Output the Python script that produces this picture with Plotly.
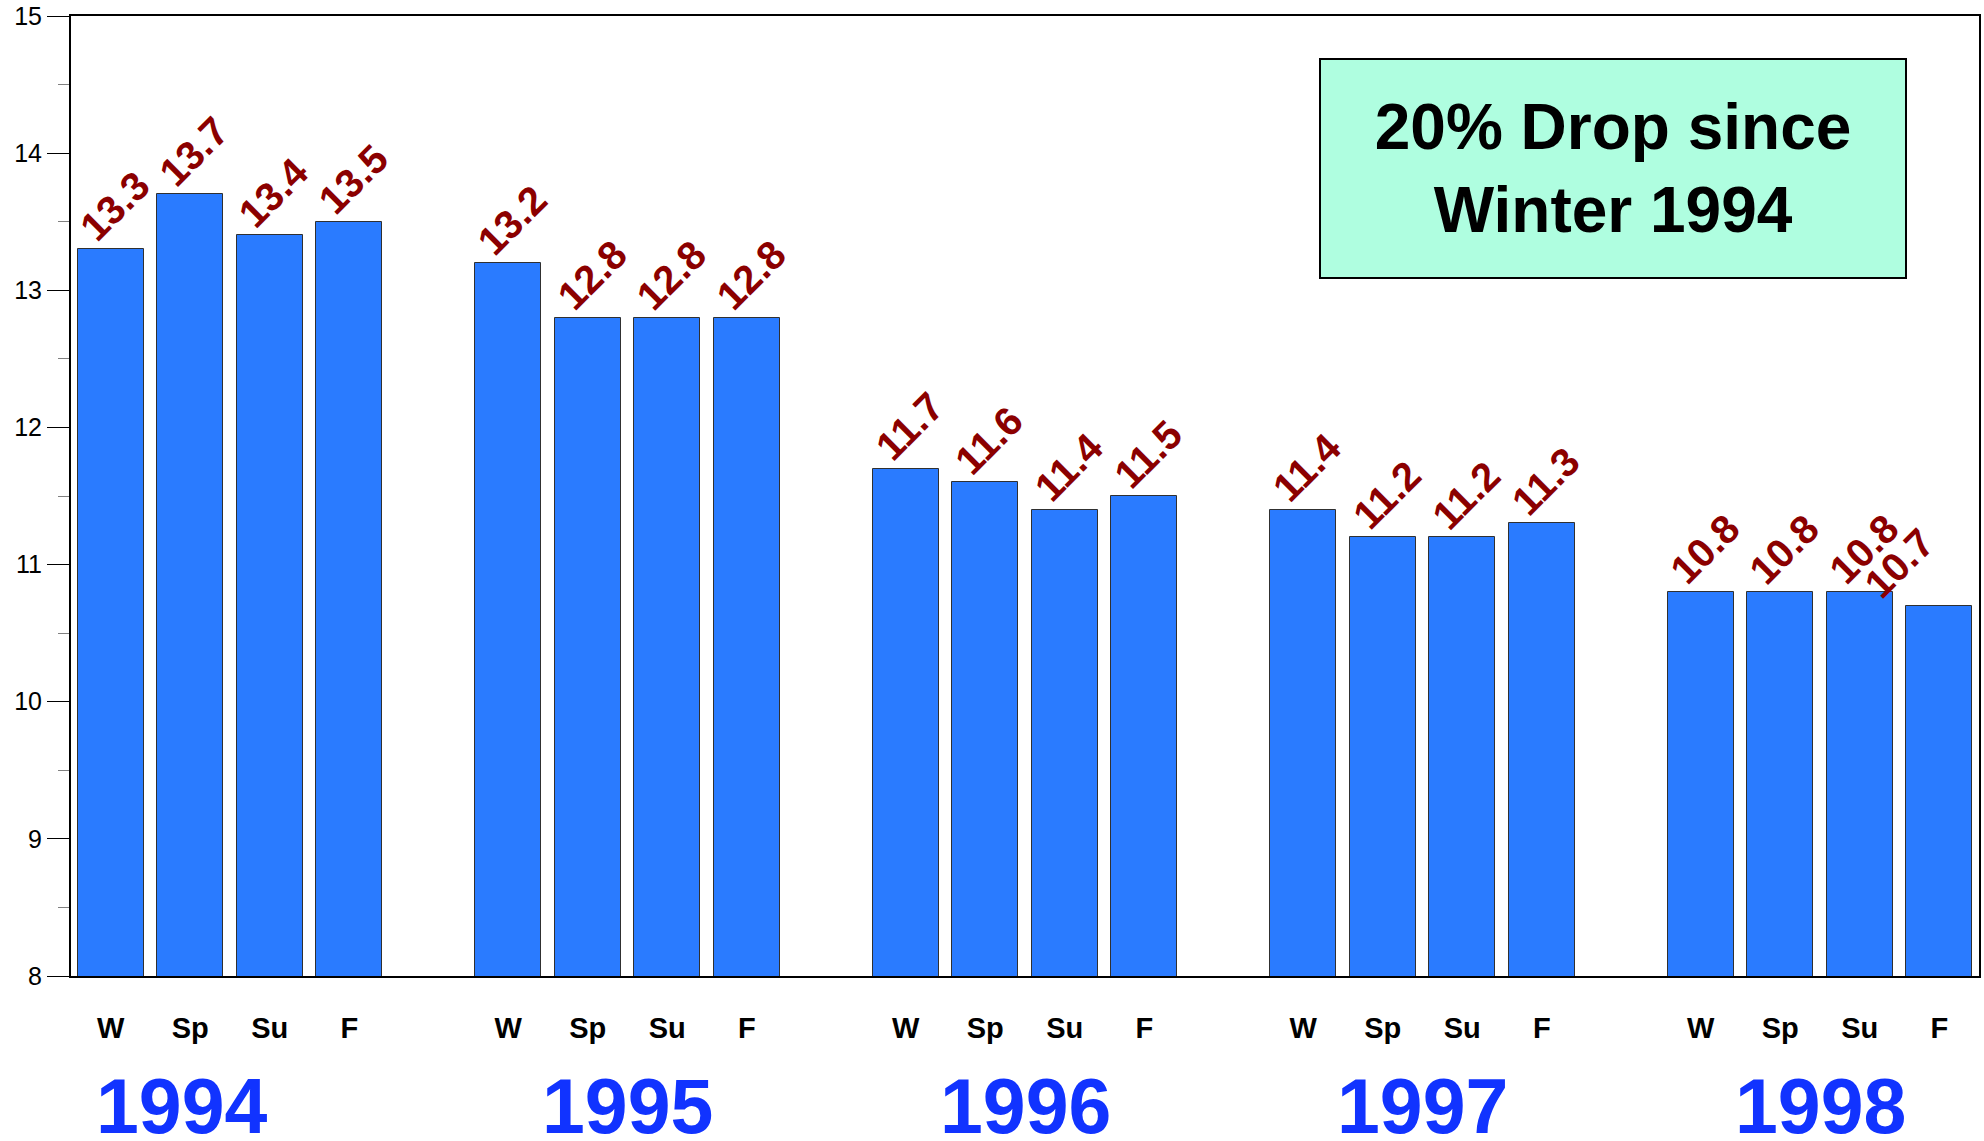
import plotly.graph_objects as go

years = ["1994", "1995", "1996", "1997", "1998"]
seasons = ["W", "Sp", "Su", "F"]
values_1994 = [13.3, 13.7, 13.4, 13.5]
values_1995 = [13.2, 12.8, 12.8, 12.8]
values_1996 = [11.7, 11.6, 11.4, 11.5]
values_1997 = [11.4, 11.2, 11.2, 11.3]
values_1998 = [10.8, 10.8, 10.8, 10.7]
y_ticks = [8, 9, 10, 11, 12, 13, 14, 15]

FONT = "Liberation Sans, Arial, sans-serif"
BAR_COLOR = "#2a7bff"
LABEL_COLOR = "#8b0000"
YEAR_COLOR = "#1133ff"
SLOTS = len(seasons) + 1  # four bars plus a blank slot per year

all_values = [values_1994, values_1995, values_1996, values_1997, values_1998]

xs, ys, tick_text = [], [], []
for g, vals in enumerate(all_values):
    for s, v in enumerate(vals):
        xs.append(g * SLOTS + s)
        ys.append(v)
        tick_text.append(seasons[s])

fig = go.Figure()
fig.add_trace(
    go.Bar(
        x=xs,
        y=ys,
        width=0.83,
        marker=dict(color=BAR_COLOR, line=dict(color="#303030", width=1)),
        hoverinfo="x+y",
    )
)

# rotated value labels above each bar (the last one is pushed left to stay inside)
for i, (x, v) in enumerate(zip(xs, ys)):
    fig.add_annotation(
        x=x,
        y=v,
        text=f"<b>{v:.1f}</b>",
        textangle=-45,
        showarrow=False,
        xanchor="center",
        yanchor="bottom",
        xshift=4 if i < len(xs) - 1 else -40,
        yshift=-3,
        font=dict(family=FONT, size=40, color=LABEL_COLOR),
    )

# year labels under each group
year_shift = {"1994": -49}
for g, yr in enumerate(years):
    fig.add_annotation(
        x=g * SLOTS + (len(seasons) - 1) / 2,
        y=-0.1355,
        xref="x",
        yref="paper",
        text=f"<b>{yr}</b>",
        showarrow=False,
        xshift=year_shift.get(yr, 0),
        yanchor="middle",
        font=dict(family=FONT, size=77, color=YEAR_COLOR),
    )

fig.add_annotation(
    x=0.6539,
    y=0.95625,
    xref="paper",
    yref="paper",
    xanchor="left",
    yanchor="top",
    text="<b>20% Drop since<br>Winter 1994</b>",
    showarrow=False,
    width=584,
    height=217,
    bgcolor="#affee0",
    bordercolor="black",
    borderwidth=2,
    borderpad=0,
    font=dict(family=FONT, size=64, color="black"),
)

fig.update_layout(
    width=1984,
    height=1141,
    margin=dict(l=71, r=5, t=16, b=165),
    plot_bgcolor="white",
    paper_bgcolor="white",
    showlegend=False,
    bargap=0,
)
fig.update_xaxes(
    range=[-0.5, len(years) * SLOTS - 1.5],
    tickvals=xs,
    ticktext=tick_text,
    ticks="",
    tickfont=dict(family=FONT, size=29, color="black", weight="bold"),
    ticklabelstandoff=25,
    showline=True,
    linecolor="black",
    linewidth=2,
    mirror=True,
    showgrid=False,
    zeroline=False,
    automargin=False,
)
fig.update_yaxes(
    range=[8, 15],
    tickvals=y_ticks,
    ticks="outside",
    ticklen=22,
    tickwidth=1,
    tickcolor="black",
    tickfont=dict(family=FONT, size=25, color="black"),
    minor=dict(dtick=0.5, ticks="outside", ticklen=11, tickcolor="#808080", tickwidth=1),
    showline=True,
    linecolor="black",
    linewidth=2,
    mirror=True,
    showgrid=False,
    zeroline=False,
    automargin=False,
)

# drop the default page margin so the figure fills the window exactly
fig.write_html(
    "out.html",
    config={"displayModeBar": False},
    post_script="document.body.style.margin='0';",
)
